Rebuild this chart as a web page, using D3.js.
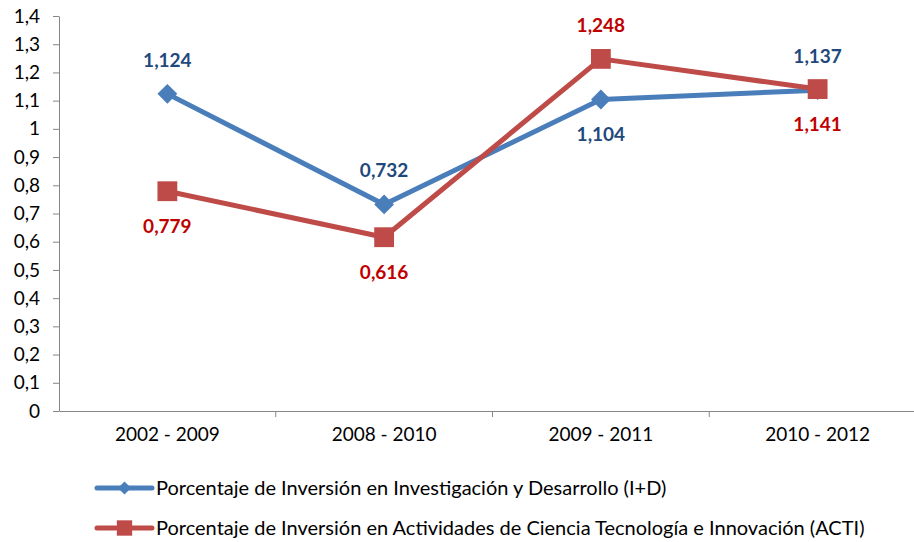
<!DOCTYPE html>
<html>
<head>
<meta charset="utf-8">
<script src="https://cdn.jsdelivr.net/npm/d3@7"></script>
<style>
    body { margin: 0; background: #fff; }
    text { font-family: Lato, "Open Sans", sans-serif; }
    .axis path, .axis line { stroke: #868686; }
    .axis text { font-size: 19px; fill: #000; }
    .data-label { font-size: 19px; font-weight: bold; }
    .legend-label { font-size: 20px; fill: #000; }
</style>
</head>
<body>
<script>
// Chart data
const categories = ["2002 - 2009", "2008 - 2010", "2009 - 2011", "2010 - 2012"];
const idValues = [1.124, 0.732, 1.104, 1.137];
const actiValues = [0.779, 0.616, 1.248, 1.141];
const idLabelSide = ["above", "above", "below", "above"];
const actiLabelSide = ["below", "below", "above", "below"];
const yTicks = [0, 0.1, 0.2, 0.3, 0.4, 0.5, 0.6, 0.7, 0.8, 0.9, 1, 1.1, 1.2, 1.3, 1.4];
const seriesNames = [
    "Porcentaje de Inversión en Investigación y Desarrollo (I+D)",
    "Porcentaje de Inversión en Actividades de Ciencia Tecnología e Innovación (ACTI)"
];

const width = 914;
const height = 542;
const margin = { top: 16, right: -12, bottom: 131, left: 59 };

const svg = d3.select("body")
    .append("svg")
    .attr("width", width)
    .attr("height", height);

// Scales
const xScale = d3.scaleBand()
    .domain(categories)
    .range([margin.left, width - margin.right]);

const yScale = d3.scaleLinear()
    .domain([0, 1.4])
    .range([height - margin.bottom, margin.top]);

const fmt = v => String(v).replace(".", ",");

// Y axis
svg.append("g")
    .attr("class", "axis")
    .attr("transform", `translate(${margin.left}, 0)`)
    .call(d3.axisLeft(yScale).tickValues(yTicks).tickSize(6).tickSizeOuter(0).tickPadding(13).tickFormat(fmt));

// X axis with ticks at category boundaries
const xAxis = svg.append("g")
    .attr("class", "axis")
    .attr("transform", `translate(0, ${height - margin.bottom})`)
    .call(d3.axisBottom(xScale).tickSize(0).tickSizeOuter(0).tickPadding(17));

xAxis.selectAll(".boundary")
    .data(categories.slice(1))
    .join("line")
    .attr("class", "boundary")
    .attr("x1", d => xScale(d))
    .attr("x2", d => xScale(d))
    .attr("y1", 0)
    .attr("y2", 6);

const cx = d => xScale(d) + xScale.bandwidth() / 2;

const series = [
    { values: idValues, sides: idLabelSide, color: "#4a7ebb", labelColor: "#1f497d", marker: d3.symbolDiamond2, size: 250, legendSize: 110 },
    { values: actiValues, sides: actiLabelSide, color: "#be4b48", labelColor: "#c00000", marker: d3.symbolSquare2, size: 500, legendSize: 300 }
];

// Lines and markers
series.forEach(s => {
    svg.append("path")
        .datum(s.values)
        .attr("fill", "none")
        .attr("stroke", s.color)
        .attr("stroke-width", 5)
        .attr("stroke-linejoin", "round")
        .attr("d", d3.line()
            .x((d, i) => cx(categories[i]))
            .y(d => yScale(d)));

    svg.selectAll(null)
        .data(s.values)
        .join("path")
        .attr("transform", (d, i) => `translate(${cx(categories[i])}, ${yScale(d)})`)
        .attr("d", d3.symbol().type(s.marker).size(s.size))
        .attr("fill", s.color);
});

// Data labels
series.forEach(s => {
    svg.selectAll(null)
        .data(s.values)
        .join("text")
        .attr("class", "data-label")
        .attr("x", (d, i) => cx(categories[i]))
        .attr("y", (d, i) => yScale(d) + (s.sides[i] === "above" ? -34 : 35))
        .attr("dy", "0.35em")
        .attr("text-anchor", "middle")
        .attr("fill", s.labelColor)
        .text(d => fmt(d));
});

// Legend
const legend = svg.append("g");
series.forEach((s, i) => {
    const y = 488 + i * 40;
    legend.append("line")
        .attr("x1", 97).attr("x2", 152)
        .attr("y1", y).attr("y2", y)
        .attr("stroke", s.color)
        .attr("stroke-width", 5)
        .attr("stroke-linecap", "round");
    legend.append("path")
        .attr("transform", `translate(124.5, ${y})`)
        .attr("d", d3.symbol().type(s.marker).size(s.legendSize))
        .attr("fill", s.color);
    legend.append("text")
        .attr("class", "legend-label")
        .attr("x", 156)
        .attr("y", y)
        .attr("dy", "0.35em")
        .text(seriesNames[i]);
});
</script>
</body>
</html>
